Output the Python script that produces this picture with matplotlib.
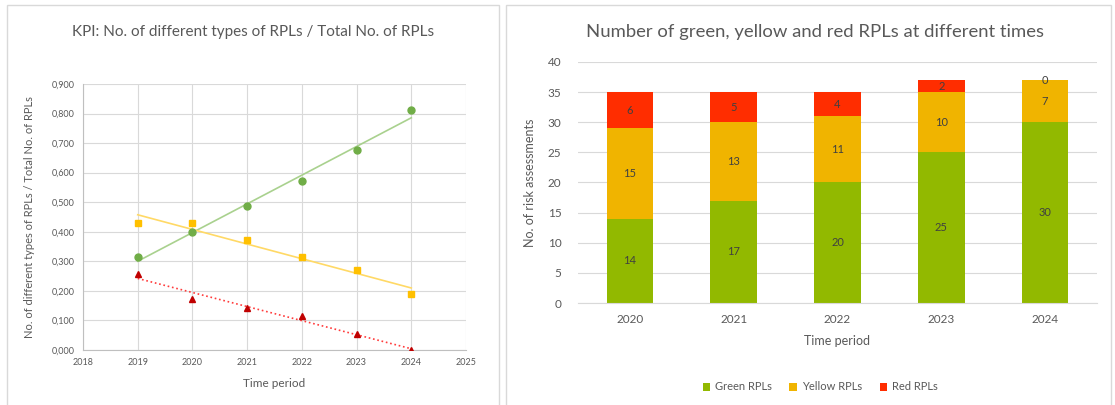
import numpy as np
import matplotlib
import matplotlib.pyplot as plt
from matplotlib.patches import Rectangle

matplotlib.use('agg')

plt.rcParams['font.family'] = ['Lato', 'DejaVu Sans']

# left chart: share of each RPL type per year
kpi_years = [2019, 2020, 2021, 2022, 2023, 2024]
kpi_green = [0.314, 0.400, 0.486, 0.571, 0.676, 0.811]
kpi_yellow = [0.429, 0.429, 0.371, 0.314, 0.270, 0.189]
kpi_red = [0.257, 0.171, 0.143, 0.114, 0.054, 0.000]
kpi_xticks = [2018, 2019, 2020, 2021, 2022, 2023, 2024, 2025]
kpi_yticks = [0.0, 0.1, 0.2, 0.3, 0.4, 0.5, 0.6, 0.7, 0.8, 0.9]

# right chart: counts per year
bar_years = ['2020', '2021', '2022', '2023', '2024']
green_cnt = [14, 17, 20, 25, 30]
yellow_cnt = [15, 13, 11, 10, 7]
red_cnt = [6, 5, 4, 2, 0]
bar_yticks = [0, 5, 10, 15, 20, 25, 30, 35, 40]

W, H = 1115, 405
TXT = '#595959'
GRID = '#d9d9d9'


def box(l, t, r, b):
    return [l / W, 1 - b / H, (r - l) / W, (b - t) / H]


fig = plt.figure(figsize=(W / 100, H / 100), dpi=100)

# panel frames
for l, r in [(7, 499), (506, 1111)]:
    fig.patches.append(Rectangle((l / W, -0.05), (r - l) / W, 1 - 5 / H + 0.05,
                                 transform=fig.transFigure, fill=False,
                                 edgecolor=GRID, linewidth=1.0))

# ---- left chart ----
ax1 = fig.add_axes(box(83, 84, 466, 350))
ax1.set_xlim(2018, 2025)
ax1.set_ylim(0, 0.9)
ax1.set_xticks(kpi_xticks)
ax1.set_yticks(kpi_yticks)
ax1.set_yticklabels([f'{v:.3f}'.replace('.', ',') for v in kpi_yticks])
ax1.grid(True, color=GRID, linewidth=0.8)
ax1.set_axisbelow(True)
for s in ['top', 'right']:
    ax1.spines[s].set_visible(False)
for s in ['left', 'bottom']:
    ax1.spines[s].set_color('#bfbfbf')
ax1.tick_params(length=0, colors=TXT, labelsize=6.5, pad=6)

series = [
    (kpi_green, '#70ad47', '#a9d18e', 'o', '-'),
    (kpi_yellow, '#ffc000', '#ffd966', 's', '-'),
    (kpi_red, '#c00000', '#ff3b3b', '^', ':'),
]
yrs = np.array(kpi_years)
for vals, mc, lc, mk, ls in series:
    k, b = np.polyfit(yrs, vals, 1)
    ax1.plot(yrs[[0, -1]], k * yrs[[0, -1]] + b, color=lc, linestyle=ls,
             linewidth=1.2, zorder=2)
    ax1.plot(yrs, vals, linestyle='none', marker=mk, markersize=5,
             color=mc, zorder=3)

ax1.set_xlabel('Time period', color=TXT, fontsize=8.5, labelpad=8)
ax1.set_ylabel('No. of different types of RPLs / Total No. of RPLs',
               color=TXT, fontsize=8, labelpad=12)
fig.text(253 / W, 1 - 32 / H,
         'KPI: No. of different types of RPLs / Total No. of RPLs',
         ha='center', va='center', color=TXT, fontsize=11)

# ---- right chart ----
ax2 = fig.add_axes(box(578, 62, 1097, 303))
x = np.arange(len(bar_years))
bw = 0.45
g = np.array(green_cnt)
yl = np.array(yellow_cnt)
rd = np.array(red_cnt)
b1 = ax2.bar(x, g, bw, color='#92b900', label='Green RPLs')
b2 = ax2.bar(x, yl, bw, bottom=g, color='#f0b400', label='Yellow RPLs')
b3 = ax2.bar(x, rd, bw, bottom=g + yl, color='#ff2d00', label='Red RPLs')
for bars in (b1, b2, b3):
    ax2.bar_label(bars, label_type='center', color='#404040', fontsize=8)

ax2.set_xlim(-0.5, len(bar_years) - 0.5)
ax2.set_ylim(0, 40)
ax2.set_xticks(x)
ax2.set_xticklabels(bar_years)
ax2.set_yticks(bar_yticks)
ax2.yaxis.grid(True, color=GRID, linewidth=0.8)
ax2.set_axisbelow(True)
for s in ['top', 'right', 'left']:
    ax2.spines[s].set_visible(False)
ax2.spines['bottom'].set_color(GRID)
ax2.tick_params(length=0, colors=TXT, labelsize=8.5, pad=8)
ax2.tick_params(axis='y', pad=12)
ax2.set_xlabel('Time period', color=TXT, fontsize=9, labelpad=7)
ax2.set_ylabel('No. of risk assessments', color=TXT, fontsize=9, labelpad=8)
fig.text(815 / W, 1 - 32 / H,
         'Number of green, yellow and red RPLs at different times',
         ha='center', va='center', color=TXT, fontsize=13.3)
fig.legend(handles=[b1, b2, b3], loc='center', bbox_to_anchor=(820 / W, 1 - 387 / H),
           ncol=3, frameon=False, fontsize=8, labelcolor=TXT,
           handlelength=0.7, handleheight=0.7, handletextpad=0.4, columnspacing=1.6)

fig.savefig('out.png', dpi=100)
